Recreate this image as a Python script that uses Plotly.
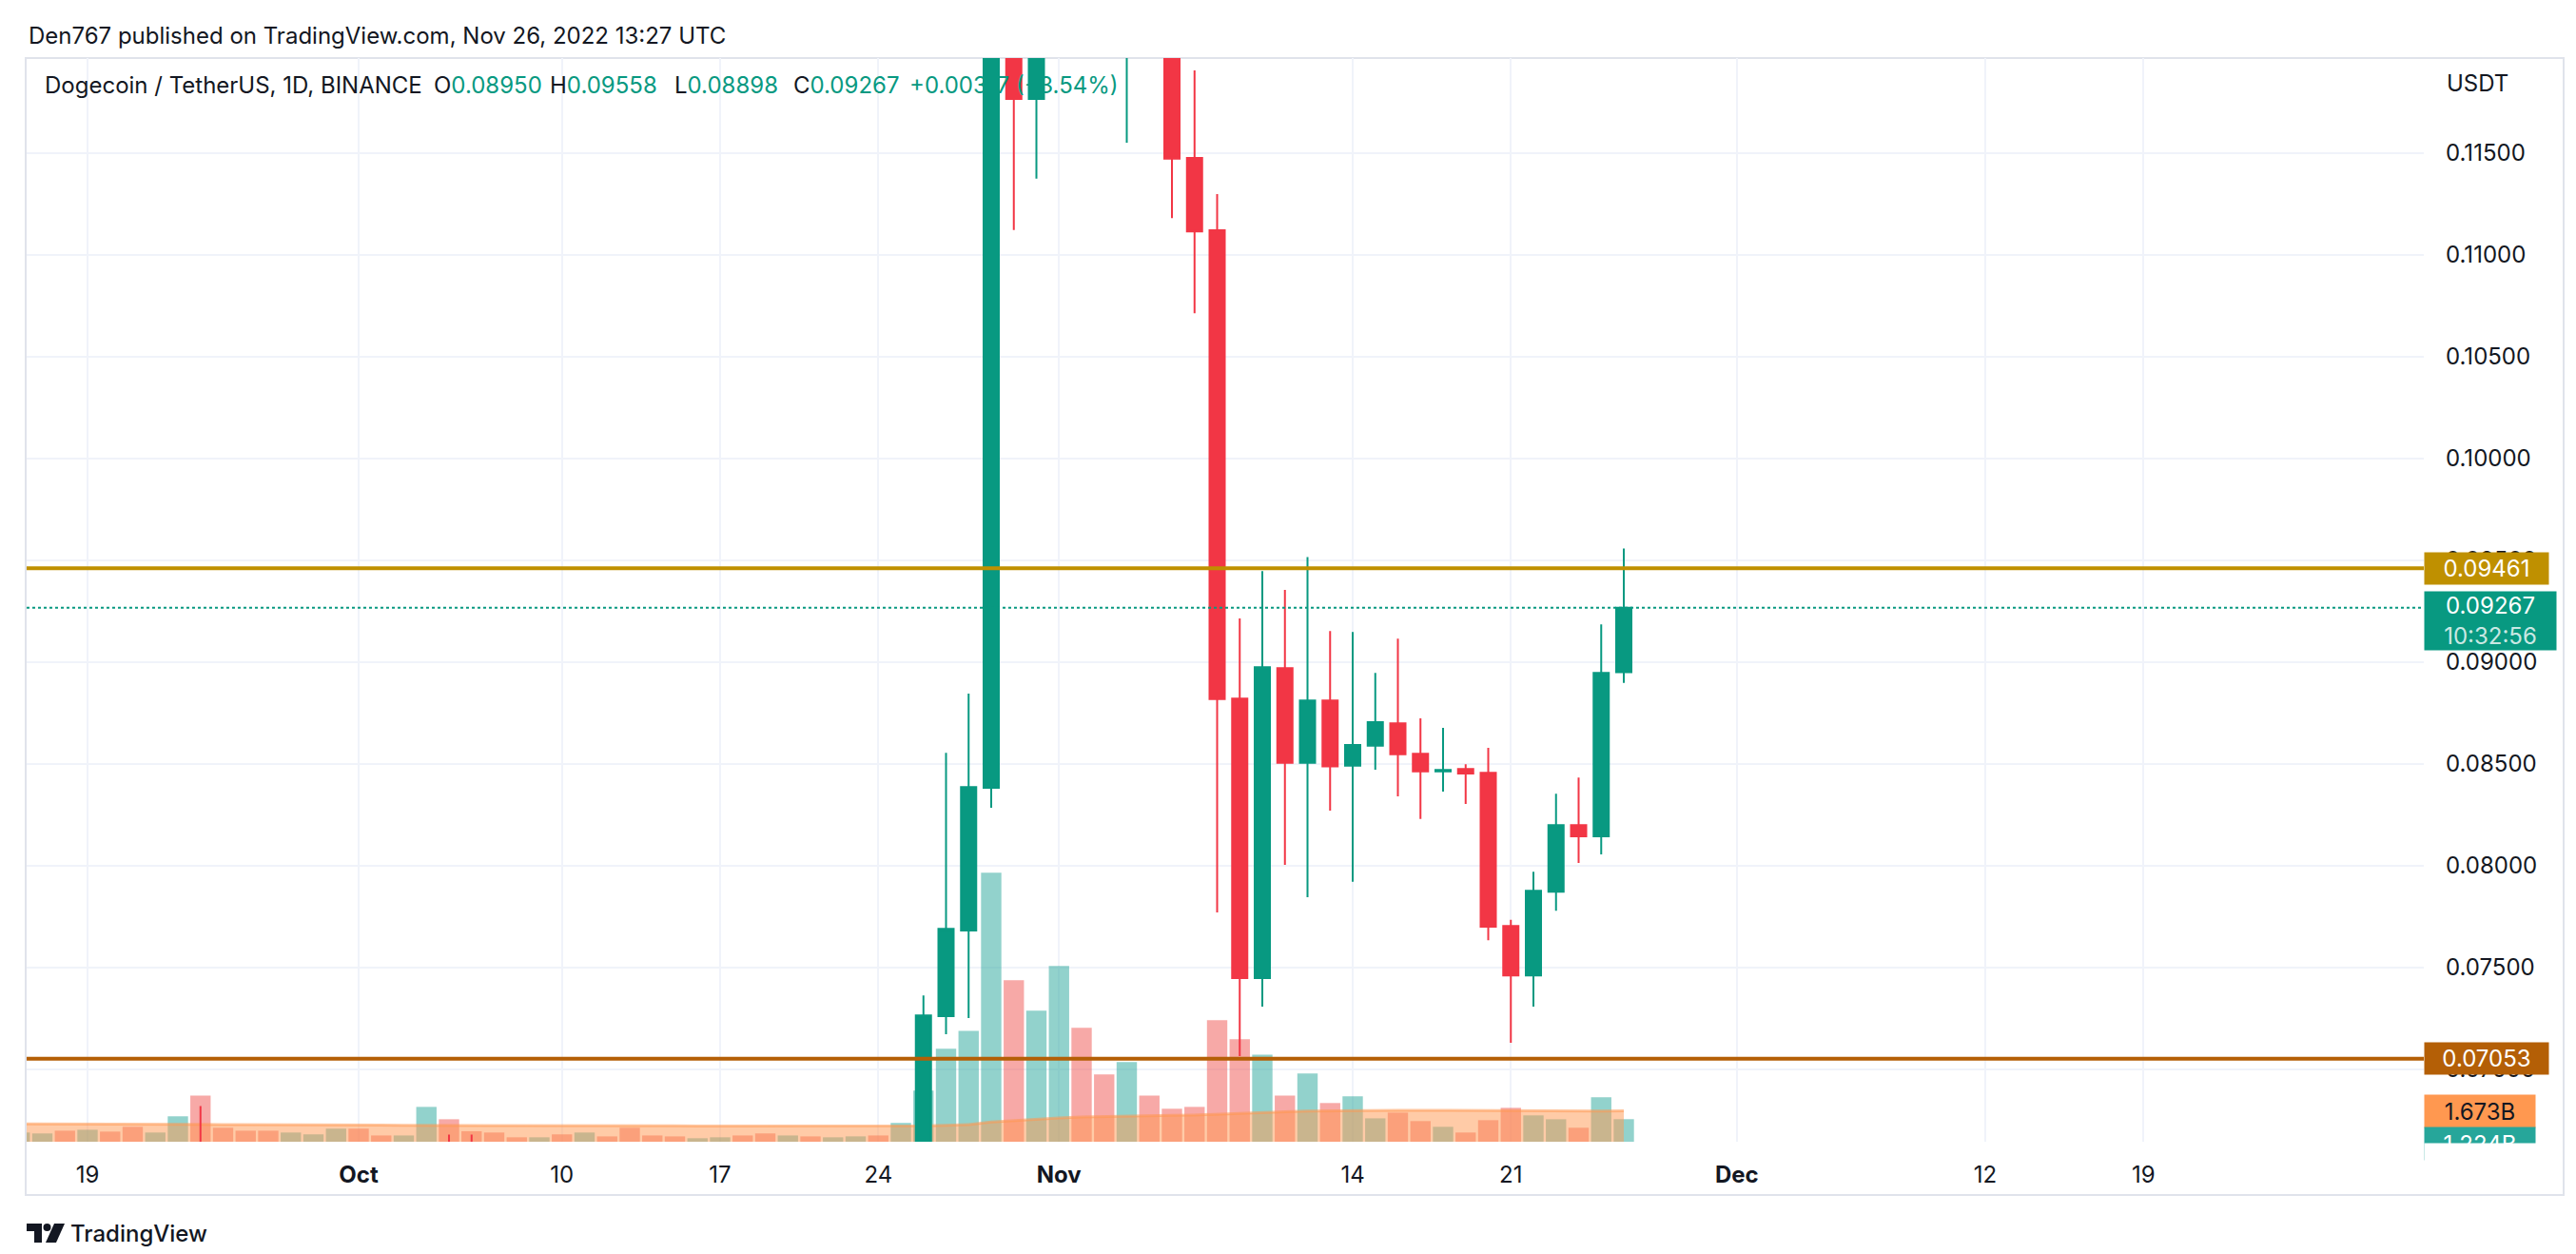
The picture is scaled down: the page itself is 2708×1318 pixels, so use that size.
import pandas as pd
import plotly.graph_objects as go

# ---------------- data ----------------
dates = pd.date_range("2022-09-16", "2022-11-26", freq="D")

opens = [0.0598, 0.0606, 0.0620, 0.0596, 0.0604, 0.0594, 0.0578, 0.0603, 0.0632, 0.0622,
         0.0612, 0.0608, 0.0602, 0.0610, 0.0614, 0.0616, 0.0612, 0.0600, 0.0608, 0.0648,
         0.0640, 0.0634, 0.0620, 0.0618, 0.0622, 0.0604, 0.0606, 0.0602, 0.0596, 0.0592,
         0.0588, 0.0594, 0.0602, 0.0594, 0.0586, 0.0590, 0.0588, 0.0596, 0.0604, 0.0598,
         0.0638, 0.07262, 0.07682, 0.08383, 0.1267, 0.11765, 0.1300, 0.1440, 0.1280, 0.1266,
         0.1340, 0.1255, 0.11475, 0.1112, 0.08821, 0.07449, 0.0897, 0.08505, 0.08812, 0.08491,
         0.0859, 0.08699, 0.0855, 0.08463, 0.08475, 0.08456, 0.07704, 0.07461, 0.07872, 0.08199,
         0.08145, 0.08950]
highs = [0.0612, 0.0625, 0.0626, 0.0608, 0.0610, 0.0612, 0.0606, 0.0640, 0.0682, 0.0630,
         0.0620, 0.0630, 0.0615, 0.0620, 0.0632, 0.0622, 0.0616, 0.0612, 0.0658, 0.0668,
         0.0668, 0.0640, 0.0624, 0.0626, 0.0628, 0.0612, 0.0610, 0.0608, 0.0614, 0.0596,
         0.0598, 0.0604, 0.0606, 0.0596, 0.0600, 0.0594, 0.0598, 0.0608, 0.0608, 0.0640,
         0.07363, 0.08555, 0.08845, 0.1466, 0.1325, 0.1358, 0.1575, 0.1455, 0.1310, 0.1400,
         0.1380, 0.1270, 0.11905, 0.11298, 0.09214, 0.09447, 0.09354, 0.09516, 0.09152, 0.09148,
         0.08947, 0.09115, 0.08724, 0.08677, 0.08498, 0.08579, 0.07735, 0.0797, 0.08354, 0.08433,
         0.09185, 0.09558]
lows = [0.0592, 0.0603, 0.0592, 0.0578, 0.0590, 0.0570, 0.0574, 0.0595, 0.0615, 0.0608,
        0.0600, 0.0598, 0.0590, 0.0602, 0.0608, 0.0608, 0.0598, 0.0594, 0.0606, 0.0630,
        0.0630, 0.0616, 0.0612, 0.0614, 0.0600, 0.0596, 0.0598, 0.0570, 0.0590, 0.0584,
        0.0586, 0.0590, 0.0590, 0.0584, 0.0582, 0.0576, 0.0586, 0.0592, 0.0594, 0.0596,
        0.0630, 0.07173, 0.07252, 0.08285, 0.11122, 0.11374, 0.1265, 0.1226, 0.1215, 0.1155,
        0.1225, 0.1118, 0.10713, 0.07771, 0.07065, 0.07308, 0.08005, 0.07846, 0.08271, 0.07921,
        0.08472, 0.08341, 0.0823, 0.08364, 0.08304, 0.07634, 0.07131, 0.07308, 0.07779, 0.08014,
        0.08056, 0.08898]
closes = [0.0606, 0.0620, 0.0596, 0.0604, 0.0594, 0.0578, 0.0603, 0.0632, 0.0622, 0.0612,
          0.0608, 0.0602, 0.0610, 0.0614, 0.0616, 0.0612, 0.0600, 0.0608, 0.0648, 0.0640,
          0.0634, 0.0620, 0.0618, 0.0622, 0.0604, 0.0606, 0.0602, 0.0596, 0.0592, 0.0588,
          0.0594, 0.0602, 0.0594, 0.0586, 0.0590, 0.0588, 0.0596, 0.0604, 0.0598, 0.0638,
          0.07265, 0.0769, 0.08386, 0.1267, 0.11765, 0.1300, 0.1440, 0.1280, 0.1266, 0.1340,
          0.1255, 0.11472, 0.11115, 0.08818, 0.07449, 0.08975, 0.08505, 0.08812, 0.08488, 0.08593,
          0.08705, 0.08547, 0.08463, 0.0847, 0.08453, 0.07701, 0.07461, 0.07877, 0.08199, 0.08145,
          0.08947, 0.09267]
volumes_b = [0.50, 0.45, 0.60, 0.65, 0.55, 0.81, 0.50, 1.38, 2.51, 0.76,
             0.60, 0.60, 0.50, 0.40, 0.71, 0.71, 0.34, 0.34, 1.89, 1.22,
             0.57, 0.50, 0.24, 0.24, 0.40, 0.50, 0.29, 0.76, 0.34, 0.29,
             0.19, 0.24, 0.34, 0.45, 0.34, 0.29, 0.24, 0.29, 0.34, 1.02,
             2.77, 5.04, 6.02, 14.6, 8.76, 7.11, 9.54, 6.18, 3.65, 4.32,
             2.51, 1.79, 1.89, 6.59, 5.56, 4.73, 2.51, 3.70, 2.10, 2.46,
             1.27, 1.58, 1.12, 0.81, 0.50, 1.17, 1.84, 1.43, 1.22, 0.76,
             2.41, 1.224]
volume_ma_b = [0.97, 0.97, 0.96, 0.96, 0.95, 0.95, 0.94, 0.94, 0.94, 0.93,
               0.93, 0.92, 0.92, 0.91, 0.91, 0.90, 0.90, 0.89, 0.89, 0.89,
               0.88, 0.88, 0.88, 0.87, 0.87, 0.87, 0.86, 0.86, 0.86, 0.86,
               0.85, 0.85, 0.85, 0.85, 0.84, 0.84, 0.84, 0.84, 0.84, 0.84,
               0.86, 0.89, 0.93, 1.07, 1.15, 1.21, 1.29, 1.34, 1.37, 1.40,
               1.42, 1.43, 1.45, 1.50, 1.56, 1.60, 1.63, 1.66, 1.68, 1.70,
               1.70, 1.71, 1.71, 1.70, 1.70, 1.70, 1.70, 1.69, 1.68, 1.66,
               1.67, 1.673]

tick_dates = ["2022-09-19", "2022-10-01", "2022-10-10", "2022-10-17", "2022-10-24",
              "2022-11-01", "2022-11-14", "2022-11-21", "2022-12-01", "2022-12-12", "2022-12-19"]
tick_texts = ["19", "<b>Oct</b>", "10", "17", "24", "<b>Nov</b>", "14", "21", "<b>Dec</b>", "12", "19"]
price_ticks = [0.070, 0.075, 0.080, 0.085, 0.090, 0.095, 0.100, 0.105, 0.110, 0.115]
price_tick_texts = ["%.5f" % v for v in price_ticks]

resistance_level = 0.09461
support_level = 0.07053
countdown_text = "10:32:56"
header_text = "Den767 published on TradingView.com, Nov 26, 2022 13:27 UTC"
symbol_text = "Dogecoin / TetherUS, 1D, BINANCE"
volume_label = "1.224B"
volume_ma_label = "1.673B"

assert len(dates) == len(opens) == len(highs) == len(lows) == len(closes) == len(volumes_b) == len(volume_ma_b)

# ---------------- styles ----------------
UP = "#089981"
DOWN = "#F23645"
VOL_UP = "rgba(38,166,154,0.5)"
VOL_DOWN = "rgba(239,83,80,0.5)"
GOLD = "#BF9000"
BROWN = "#B45F06"
MA_ORANGE = "#FF9850"
TEXT = "#131722"
GRID = "#F0F3FA"
BORDER = "#E0E3EB"
FONT = "Inter, Roboto, sans-serif"

W, H = 2708, 1318
ML, MR, MT, MB = 20, 168, 53, 126
PW, PH = W - ML - MR, H - MT - MB


def px(x):
    return (x - ML) / PW


def py(y):
    return (H - MB - y) / PH


day0 = pd.Timestamp("2022-09-19")
x_start = day0 - pd.Timedelta(days=2.695)
x_end = day0 + pd.Timedelta(days=103.41)

vol_colors = [VOL_UP if c >= o else VOL_DOWN for o, c in zip(opens, closes)]

fig = go.Figure()
fig.add_trace(go.Bar(x=dates, y=volumes_b, marker=dict(color=vol_colors, line=dict(width=0)),
                     yaxis="y", showlegend=False, hoverinfo="skip"))
fig.add_trace(go.Scatter(x=dates, y=volume_ma_b, mode="lines", fill="tozeroy",
                         fillcolor="rgba(255,152,80,0.5)",
                         line=dict(color="rgba(255,152,80,0.55)", width=3),
                         yaxis="y", showlegend=False, hoverinfo="skip"))
fig.add_trace(go.Candlestick(x=dates, open=opens, high=highs, low=lows, close=closes,
                             increasing=dict(line=dict(color=UP, width=2), fillcolor=UP),
                             decreasing=dict(line=dict(color=DOWN, width=2), fillcolor=DOWN),
                             whiskerwidth=0, yaxis="y2", showlegend=False, hoverinfo="skip"))

shapes = [
    # chart frame
    dict(type="rect", xref="paper", yref="paper", x0=px(19), x1=px(2687), y0=py(1248), y1=py(53),
         line=dict(color=BORDER, width=2), layer="below"),
    # level lines
    dict(type="line", xref="paper", yref="y2", x0=0, x1=1, y0=resistance_level, y1=resistance_level,
         line=dict(color=GOLD, width=4), layer="above"),
    dict(type="line", xref="paper", yref="y2", x0=0, x1=1, y0=support_level, y1=support_level,
         line=dict(color=BROWN, width=4), layer="above"),
    dict(type="line", xref="paper", yref="y2", x0=0, x1=1, y0=closes[-1], y1=closes[-1],
         line=dict(color=UP, width=2, dash="dot"), layer="above"),
]

# TradingView logo (decoration)
lx, ly = 20, 1278
def lp(x, y):
    return "%f,%f" % (px(lx + x), py(ly + y))
shapes.append(dict(type="path", xref="paper", yref="paper",
                   path="M%s L%s L%s L%s L%s L%s Z" % (lp(0, 0), lp(16, 0), lp(16, 20), lp(8, 20), lp(8, 8), lp(0, 8)),
                   fillcolor=TEXT, line=dict(width=0), layer="above"))
shapes.append(dict(type="circle", xref="paper", yref="paper",
                   x0=px(lx + 17.5), x1=px(lx + 25.5), y0=py(ly + 8), y1=py(ly + 0),
                   fillcolor=TEXT, line=dict(width=0), layer="above"))
shapes.append(dict(type="path", xref="paper", yref="paper",
                   path="M%s L%s L%s L%s Z" % (lp(29, 0), lp(40, 0), lp(31, 20), lp(20, 20)),
                   fillcolor=TEXT, line=dict(width=0), layer="above"))

ann = []
def text_ann(x, y, text, size=24, color=TEXT, xanchor="left", weight=None):
    f = dict(family=FONT, size=size, color=color)
    if weight:
        f["weight"] = weight
    ann.append(dict(xref="paper", yref="paper", x=px(x), y=py(y), text=text, showarrow=False,
                    xanchor=xanchor, yanchor="middle", font=f))

LEG_Y = 81
text_ann(20, 30, header_text, size=24)
text_ann(37, LEG_Y, symbol_text, size=24)
text_ann(446, LEG_Y, "O<span style='color:%s'>%.5f</span>" % (UP, opens[-1]), size=24)
text_ann(568, LEG_Y, "H<span style='color:%s'>%.5f</span>" % (UP, highs[-1]), size=24)
text_ann(699, LEG_Y, "L<span style='color:%s'>%.5f</span>" % (UP, lows[-1]), size=24)
text_ann(824, LEG_Y, "C<span style='color:%s'>%.5f</span>" % (UP, closes[-1]), size=24)
chg = closes[-1] - opens[-1]
text_ann(946, LEG_Y, "%+.5f (%+.2f%%)" % (chg, chg / opens[-1] * 100), size=24, color=UP)
text_ann(2562, 79, "USDT", size=24)
text_ann(64, 1288, "TradingView", size=24, weight=500)


def box_ann(yval, yref, text, bg, fg, w, h, yshift=0):
    ann.append(dict(xref="paper", yref=yref, x=1, y=yval, text=text, showarrow=False,
                    xanchor="left", yanchor="middle", bgcolor=bg, width=w, height=h,
                    borderpad=0, align="center", yshift=yshift,
                    font=dict(family=FONT, size=24, color=fg)))

box_ann(resistance_level, "y2", "%.5f" % resistance_level, GOLD, "white", 130, 33)
box_ann(closes[-1], "y2", "%.5f<br><span style='color:rgba(255,255,255,0.8)'>%s</span>" % (closes[-1], countdown_text),
        UP, "white", 138, 61, yshift=-14)
box_ann(support_level, "y2", "%.5f" % support_level, BROWN, "white", 130, 33)
box_ann(volume_ma_b[-1], "y", volume_ma_label, MA_ORANGE, TEXT, 116, 34)
box_ann(volumes_b[-1], "y", volume_label, "#26A69A", "white", 116, 34, yshift=-26)
# mask the part of the volume label that falls below the pane
ann.append(dict(xref="paper", yref="paper", x=1, y=0, text=" ", showarrow=False, xanchor="left",
                yanchor="top", bgcolor="white", width=126, height=24, borderpad=0, yshift=-1))

fig.update_layout(
    width=W, height=H,
    margin=dict(l=ML, r=MR, t=MT, b=MB, autoexpand=False),
    paper_bgcolor="white", plot_bgcolor="white",
    showlegend=False,
    bargap=0.1, boxgap=0.326, boxgroupgap=0,
    xaxis=dict(type="date", range=[x_start, x_end], tickmode="array", tickvals=tick_dates,
               ticktext=tick_texts, showgrid=True, gridcolor=GRID, gridwidth=2, zeroline=False,
               showline=False, ticks="", ticklabelstandoff=18,
               tickfont=dict(family=FONT, size=24, color=TEXT), rangeslider=dict(visible=False)),
    yaxis=dict(range=[0, 58.8], visible=False, showgrid=False, zeroline=False, fixedrange=True),
    yaxis2=dict(overlaying="y", side="right", range=[0.06645, 0.11966], tickmode="array",
                tickvals=price_ticks, ticktext=price_tick_texts, showgrid=True, gridcolor=GRID,
                gridwidth=2, zeroline=False, showline=False, ticks="", ticklabelstandoff=22,
                tickfont=dict(family=FONT, size=24, color=TEXT)),
    shapes=shapes,
    annotations=ann,
)

fig.write_html("out.html")
